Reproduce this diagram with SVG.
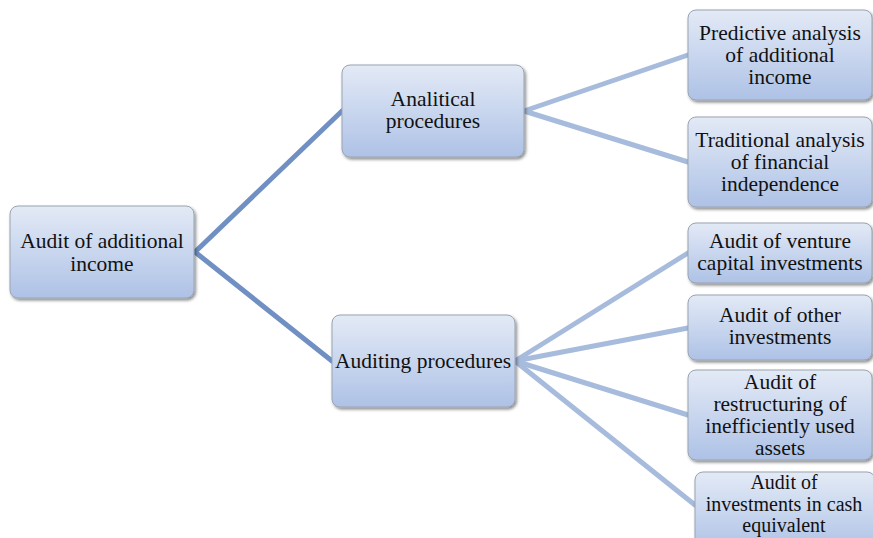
<svg xmlns="http://www.w3.org/2000/svg" width="873" height="538" viewBox="0 0 873 538">
<defs>
<linearGradient id="g" x1="0" y1="0" x2="0" y2="1">
<stop offset="0" stop-color="#e3eaf6"/>
<stop offset="1" stop-color="#aec2e6"/>
</linearGradient>
<filter id="sh" x="-10%" y="-10%" width="125%" height="130%">
<feDropShadow dx="1.5" dy="2" stdDeviation="1.5" flood-color="#000" flood-opacity="0.45"/>
</filter>
</defs>
<style>
.box{fill:url(#g);stroke:#9aa3b2;stroke-width:1;filter:url(#sh)}
.t{font-family:"Liberation Serif","Times New Roman",serif;font-size:21.5px;fill:#111;text-anchor:middle}
.s{font-size:20px}
.l1{stroke:#7090c4;stroke-width:5;fill:none;stroke-linecap:round}
.l2{stroke:#a7bbdc;stroke-width:5;fill:none;stroke-linecap:round}
</style>
<rect width="873" height="538" fill="#fff"/>
<g id="connectors">
<path class="l1" d="M195 252 L342 111"/>
<path class="l1" d="M195 252 L332 361"/>
<path class="l2" d="M524 111 L688 55"/>
<path class="l2" d="M524 111 L688 162"/>
<path class="l2" d="M515 361 L688 253"/>
<path class="l2" d="M515 361 L688 328"/>
<path class="l2" d="M515 361 L688 415"/>
<path class="l2" d="M515 361 L695 505"/>
</g>
<g id="root">
<rect class="box" x="10" y="206" width="184" height="92" rx="8"/>
<text class="t" x="102" y="248">Audit of additional</text>
<text class="t" x="102" y="271">income</text>
</g>
<g id="analitical">
<rect class="box" x="342" y="65" width="182" height="92" rx="8"/>
<text class="t" x="433" y="106">Analitical</text>
<text class="t" x="433" y="128">procedures</text>
</g>
<g id="auditing">
<rect class="box" x="332" y="315" width="183" height="92" rx="8"/>
<text class="t" x="423" y="368">Auditing procedures</text>
</g>
<g id="predictive">
<rect class="box" x="688" y="10" width="184" height="90" rx="8"/>
<text class="t" x="780" y="40">Predictive analysis</text>
<text class="t" x="780" y="62">of additional</text>
<text class="t" x="780" y="84">income</text>
</g>
<g id="traditional">
<rect class="box" x="688" y="117" width="184" height="90" rx="8"/>
<text class="t" x="780" y="147">Traditional analysis</text>
<text class="t" x="780" y="169">of financial</text>
<text class="t" x="780" y="191">independence</text>
</g>
<g id="venture">
<rect class="box" x="688" y="223" width="184" height="60" rx="8"/>
<text class="t" x="780" y="248">Audit of venture</text>
<text class="t" x="780" y="270">capital investments</text>
</g>
<g id="other">
<rect class="box" x="688" y="295" width="184" height="65" rx="8"/>
<text class="t" x="780" y="322">Audit of  other</text>
<text class="t" x="780" y="344">investments</text>
</g>
<g id="restructuring">
<rect class="box" x="688" y="370" width="184" height="90" rx="8"/>
<text class="t" x="780" y="389">Audit of</text>
<text class="t" x="780" y="411">restructuring of</text>
<text class="t" x="780" y="433">inefficiently used</text>
<text class="t" x="780" y="455">assets</text>
</g>
<g id="cash">
<rect class="box" x="695" y="472" width="180" height="80" rx="8"/>
<text class="t s" x="784" y="489">Audit of</text>
<text class="t s" x="784" y="510.5">investments in cash</text>
<text class="t s" x="784" y="532">equivalent</text>
</g>
</svg>
